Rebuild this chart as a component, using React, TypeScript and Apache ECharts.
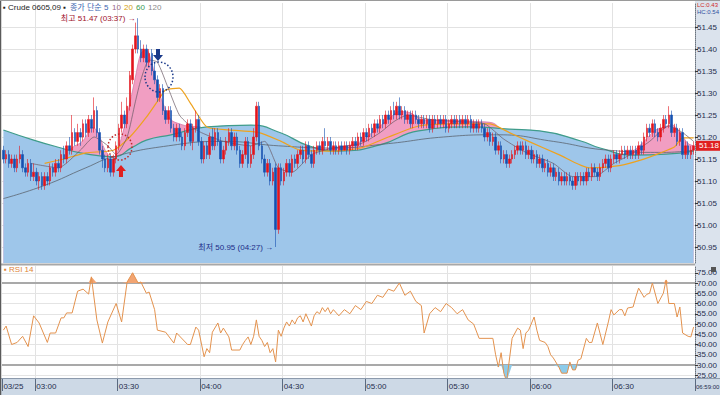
import React, { useEffect, useRef } from "react";
import * as echarts from "echarts";

const START_MIN = 2 * 60 + 48; // 02:48
const N = 252;
const categories: string[] = Array.from({ length: N }, (_, i) => {
  const m = START_MIN + i;
  return `${String(Math.floor(m / 60)).padStart(2, "0")}:${String(m % 60).padStart(2, "0")}`;
});

// [open, close, low, high]
const candles: number[][] = [
  [51.17, 51.15, 51.14, 51.18], [51.15, 51.16, 51.14, 51.17], [51.16, 51.14, 51.13, 51.17], [51.14, 51.15, 51.13, 51.16],
  [51.15, 51.13, 51.12, 51.16], [51.13, 51.15, 51.12, 51.16], [51.15, 51.16, 51.14, 51.18], [51.16, 51.13, 51.12, 51.17],
  [51.13, 51.12, 51.11, 51.14], [51.12, 51.14, 51.11, 51.15], [51.14, 51.11, 51.10, 51.15], [51.11, 51.12, 51.10, 51.14],
  [51.12, 51.10, 51.09, 51.13], [51.10, 51.11, 51.08, 51.12], [51.11, 51.09, 51.08, 51.12], [51.09, 51.11, 51.08, 51.12],
  [51.11, 51.10, 51.09, 51.12], [51.10, 51.13, 51.09, 51.14], [51.13, 51.12, 51.11, 51.14], [51.12, 51.14, 51.11, 51.15],
  [51.14, 51.13, 51.12, 51.15], [51.13, 51.16, 51.12, 51.17], [51.16, 51.15, 51.14, 51.18], [51.15, 51.18, 51.14, 51.19],
  [51.18, 51.17, 51.16, 51.20], [51.17, 51.21, 51.16, 51.25], [51.21, 51.19, 51.18, 51.22], [51.19, 51.21, 51.18, 51.23],
  [51.21, 51.20, 51.18, 51.22], [51.20, 51.23, 51.19, 51.24], [51.23, 51.21, 51.20, 51.24], [51.21, 51.24, 51.20, 51.25],
  [51.24, 51.22, 51.21, 51.25], [51.22, 51.26, 51.21, 51.29], [51.26, 51.21, 51.20, 51.27], [51.21, 51.17, 51.16, 51.22],
  [51.17, 51.15, 51.13, 51.18], [51.15, 51.13, 51.12, 51.16], [51.13, 51.15, 51.12, 51.16], [51.15, 51.12, 51.11, 51.16],
  [51.12, 51.15, 51.11, 51.16], [51.15, 51.18, 51.14, 51.19], [51.18, 51.22, 51.17, 51.23], [51.22, 51.25, 51.21, 51.28],
  [51.25, 51.23, 51.22, 51.26], [51.23, 51.27, 51.22, 51.29], [51.27, 51.34, 51.26, 51.35], [51.33, 51.40, 51.32, 51.41],
  [51.40, 51.43, 51.39, 51.46], [51.43, 51.40, 51.39, 51.47], [51.40, 51.38, 51.37, 51.42], [51.38, 51.40, 51.37, 51.41],
  [51.40, 51.37, 51.36, 51.41], [51.37, 51.39, 51.36, 51.40], [51.39, 51.35, 51.34, 51.40], [51.35, 51.33, 51.32, 51.37],
  [51.33, 51.29, 51.28, 51.34], [51.29, 51.31, 51.28, 51.32], [51.31, 51.26, 51.25, 51.32], [51.26, 51.24, 51.23, 51.27],
  [51.24, 51.26, 51.23, 51.27], [51.26, 51.22, 51.21, 51.27], [51.22, 51.20, 51.19, 51.23], [51.20, 51.22, 51.19, 51.23],
  [51.22, 51.20, 51.19, 51.23], [51.20, 51.18, 51.17, 51.21], [51.18, 51.21, 51.17, 51.22], [51.21, 51.23, 51.20, 51.24],
  [51.23, 51.19, 51.18, 51.24], [51.19, 51.22, 51.17, 51.23], [51.22, 51.24, 51.21, 51.26], [51.24, 51.19, 51.18, 51.25],
  [51.19, 51.15, 51.14, 51.20], [51.15, 51.18, 51.14, 51.19], [51.18, 51.16, 51.15, 51.19], [51.16, 51.20, 51.15, 51.21],
  [51.20, 51.18, 51.17, 51.22], [51.18, 51.21, 51.17, 51.22], [51.21, 51.19, 51.18, 51.22], [51.19, 51.15, 51.14, 51.20],
  [51.15, 51.17, 51.14, 51.18], [51.17, 51.19, 51.16, 51.20], [51.19, 51.21, 51.18, 51.22], [51.21, 51.18, 51.17, 51.22],
  [51.18, 51.20, 51.17, 51.21], [51.20, 51.17, 51.16, 51.21], [51.17, 51.14, 51.13, 51.18], [51.14, 51.16, 51.13, 51.17],
  [51.16, 51.19, 51.15, 51.20], [51.19, 51.14, 51.13, 51.20], [51.14, 51.16, 51.13, 51.18], [51.16, 51.20, 51.15, 51.22],
  [51.20, 51.27, 51.19, 51.28], [51.27, 51.18, 51.17, 51.28], [51.18, 51.15, 51.14, 51.19], [51.15, 51.12, 51.11, 51.16],
  [51.12, 51.14, 51.11, 51.15], [51.14, 51.10, 51.09, 51.15], [51.10, 51.12, 51.09, 51.13], [51.13, 50.99, 50.95, 51.14],
  [50.99, 51.13, 50.98, 51.14], [51.13, 51.10, 51.09, 51.14], [51.10, 51.12, 51.09, 51.13], [51.12, 51.14, 51.11, 51.15],
  [51.14, 51.12, 51.11, 51.15], [51.12, 51.15, 51.11, 51.16], [51.15, 51.14, 51.13, 51.16], [51.14, 51.16, 51.13, 51.17],
  [51.16, 51.17, 51.15, 51.18], [51.17, 51.15, 51.14, 51.18], [51.15, 51.18, 51.14, 51.19], [51.18, 51.16, 51.15, 51.19],
  [51.16, 51.14, 51.13, 51.17], [51.14, 51.17, 51.13, 51.18], [51.17, 51.18, 51.16, 51.19], [51.18, 51.17, 51.16, 51.19],
  [51.17, 51.19, 51.16, 51.20], [51.19, 51.18, 51.17, 51.22], [51.18, 51.19, 51.17, 51.20], [51.19, 51.17, 51.16, 51.20],
  [51.17, 51.18, 51.16, 51.19], [51.18, 51.17, 51.16, 51.19], [51.17, 51.18, 51.16, 51.19], [51.18, 51.17, 51.16, 51.19],
  [51.17, 51.18, 51.17, 51.19], [51.18, 51.17, 51.16, 51.19], [51.17, 51.18, 51.16, 51.19], [51.18, 51.19, 51.17, 51.20],
  [51.19, 51.18, 51.17, 51.20], [51.18, 51.20, 51.17, 51.21], [51.20, 51.19, 51.18, 51.21], [51.19, 51.21, 51.18, 51.22],
  [51.21, 51.20, 51.19, 51.22], [51.20, 51.22, 51.19, 51.23], [51.22, 51.21, 51.20, 51.23], [51.21, 51.23, 51.20, 51.24],
  [51.23, 51.22, 51.21, 51.24], [51.22, 51.24, 51.21, 51.25], [51.24, 51.23, 51.22, 51.25], [51.23, 51.25, 51.22, 51.26],
  [51.25, 51.24, 51.23, 51.26], [51.24, 51.26, 51.23, 51.27], [51.26, 51.25, 51.24, 51.28], [51.25, 51.27, 51.24, 51.28],
  [51.27, 51.25, 51.24, 51.29], [51.25, 51.26, 51.24, 51.27], [51.26, 51.24, 51.23, 51.27], [51.24, 51.25, 51.23, 51.26],
  [51.25, 51.23, 51.22, 51.26], [51.23, 51.25, 51.22, 51.26], [51.25, 51.24, 51.23, 51.26], [51.24, 51.23, 51.22, 51.25],
  [51.23, 51.24, 51.22, 51.25], [51.24, 51.23, 51.22, 51.25], [51.23, 51.24, 51.22, 51.25], [51.24, 51.22, 51.21, 51.25],
  [51.22, 51.24, 51.21, 51.25], [51.24, 51.23, 51.22, 51.25], [51.23, 51.24, 51.22, 51.25], [51.24, 51.23, 51.22, 51.25],
  [51.23, 51.24, 51.22, 51.25], [51.24, 51.22, 51.21, 51.25], [51.22, 51.23, 51.21, 51.24], [51.23, 51.24, 51.22, 51.25],
  [51.24, 51.23, 51.22, 51.25], [51.23, 51.24, 51.22, 51.25], [51.24, 51.23, 51.22, 51.25], [51.23, 51.24, 51.22, 51.25],
  [51.24, 51.23, 51.22, 51.25], [51.23, 51.24, 51.22, 51.25], [51.24, 51.22, 51.21, 51.25], [51.22, 51.23, 51.21, 51.24],
  [51.23, 51.22, 51.21, 51.24], [51.22, 51.23, 51.21, 51.24], [51.23, 51.22, 51.21, 51.24], [51.22, 51.20, 51.19, 51.23],
  [51.20, 51.21, 51.19, 51.22], [51.21, 51.19, 51.18, 51.22], [51.19, 51.20, 51.18, 51.21], [51.20, 51.17, 51.16, 51.21],
  [51.17, 51.18, 51.16, 51.19], [51.18, 51.15, 51.14, 51.19], [51.15, 51.16, 51.14, 51.17], [51.16, 51.14, 51.13, 51.17],
  [51.14, 51.15, 51.13, 51.16], [51.15, 51.16, 51.14, 51.17], [51.16, 51.17, 51.15, 51.18], [51.17, 51.18, 51.16, 51.19],
  [51.18, 51.17, 51.16, 51.19], [51.17, 51.18, 51.16, 51.19], [51.18, 51.16, 51.15, 51.19], [51.16, 51.17, 51.15, 51.18],
  [51.17, 51.15, 51.14, 51.18], [51.15, 51.16, 51.14, 51.17], [51.16, 51.14, 51.13, 51.17], [51.14, 51.15, 51.13, 51.16],
  [51.15, 51.13, 51.12, 51.16], [51.13, 51.14, 51.12, 51.15], [51.14, 51.12, 51.11, 51.15], [51.12, 51.13, 51.11, 51.14],
  [51.13, 51.11, 51.10, 51.14], [51.11, 51.12, 51.10, 51.13], [51.12, 51.10, 51.09, 51.13], [51.10, 51.11, 51.09, 51.12],
  [51.11, 51.10, 51.09, 51.12], [51.10, 51.11, 51.09, 51.12], [51.11, 51.10, 51.09, 51.12], [51.10, 51.09, 51.08, 51.11],
  [51.09, 51.11, 51.08, 51.12], [51.11, 51.10, 51.09, 51.12], [51.10, 51.11, 51.09, 51.12], [51.11, 51.10, 51.09, 51.12],
  [51.10, 51.12, 51.09, 51.13], [51.12, 51.11, 51.10, 51.13], [51.11, 51.13, 51.10, 51.14], [51.13, 51.12, 51.11, 51.14],
  [51.12, 51.11, 51.10, 51.13], [51.11, 51.13, 51.10, 51.14], [51.13, 51.14, 51.12, 51.15], [51.14, 51.15, 51.13, 51.16],
  [51.15, 51.13, 51.12, 51.16], [51.13, 51.15, 51.12, 51.16], [51.15, 51.16, 51.14, 51.17], [51.16, 51.15, 51.14, 51.17],
  [51.15, 51.16, 51.14, 51.17], [51.16, 51.17, 51.15, 51.18], [51.17, 51.16, 51.15, 51.18], [51.16, 51.17, 51.15, 51.18],
  [51.17, 51.16, 51.15, 51.18], [51.16, 51.17, 51.15, 51.18], [51.17, 51.16, 51.15, 51.18], [51.16, 51.18, 51.15, 51.19],
  [51.18, 51.17, 51.16, 51.19], [51.17, 51.20, 51.16, 51.21], [51.20, 51.22, 51.19, 51.23], [51.22, 51.21, 51.20, 51.23],
  [51.21, 51.23, 51.20, 51.24], [51.23, 51.21, 51.20, 51.24], [51.21, 51.20, 51.19, 51.22], [51.20, 51.22, 51.19, 51.23],
  [51.22, 51.24, 51.21, 51.25], [51.24, 51.23, 51.22, 51.25], [51.23, 51.25, 51.22, 51.27], [51.25, 51.21, 51.20, 51.26],
  [51.21, 51.22, 51.20, 51.23], [51.22, 51.19, 51.18, 51.23], [51.19, 51.21, 51.18, 51.22], [51.21, 51.16, 51.15, 51.22],
  [51.16, 51.18, 51.15, 51.19], [51.18, 51.16, 51.15, 51.19], [51.16, 51.17, 51.15, 51.18], [51.17, 51.18, 51.16, 51.19],
];

// moving averages: [candle index, price]
const maLong: number[][] = [
  [0, 51.216], [11, 51.193], [21, 51.175], [28, 51.164], [40, 51.155], [47, 51.177], [52, 51.193], [61, 51.205],
  [74, 51.223], [90, 51.227], [101, 51.209], [111, 51.18], [122, 51.168], [137, 51.182], [151, 51.214], [170, 51.223],
  [184, 51.218], [195, 51.214], [210, 51.191], [217, 51.175], [229, 51.159], [241, 51.161], [251, 51.168],
];
const maShort: number[][] = [
  [0, 51.15], [11, 51.13], [18, 51.13], [22, 51.16], [26, 51.18], [28, 51.186], [30, 51.2], [32, 51.222], [34, 51.215],
  [37, 51.17], [40, 51.15], [43, 51.2], [46, 51.277], [48, 51.336], [50, 51.39], [52, 51.398], [54, 51.368], [56, 51.314],
  [58, 51.277], [61, 51.239], [64, 51.23], [68, 51.224], [71, 51.224], [74, 51.21], [80, 51.19], [90, 51.19], [95, 51.17],
  [100, 51.1], [105, 51.12], [110, 51.16], [115, 51.17], [120, 51.175], [125, 51.18], [130, 51.19], [135, 51.215],
  [140, 51.24], [144, 51.258], [148, 51.255], [152, 51.24], [158, 51.238], [165, 51.238], [172, 51.235], [178, 51.232],
  [181, 51.215], [185, 51.16], [190, 51.17], [200, 51.125], [205, 51.1], [210, 51.1], [215, 51.115], [220, 51.14],
  [225, 51.16], [229, 51.168], [233, 51.19], [237, 51.215], [240, 51.222], [243, 51.228], [246, 51.21], [249, 51.185],
  [251, 51.18],
];
const ma20: number[][] = [
  [15, 51.14], [22, 51.15], [30, 51.164], [40, 51.17], [46, 51.2], [52, 51.245], [57, 51.29], [59, 51.307], [64, 51.311],
  [68, 51.277], [74, 51.223], [82, 51.216], [93, 51.21], [101, 51.19], [108, 51.17], [119, 51.168], [130, 51.175],
  [140, 51.2], [151, 51.225], [162, 51.23], [177, 51.23], [184, 51.21], [191, 51.19], [202, 51.16], [213, 51.13],
  [224, 51.135], [232, 51.148], [239, 51.164], [244, 51.177], [247, 51.198], [251, 51.198],
];
const ma10: number[][] = [
  [10, 51.14], [20, 51.13], [28, 51.17], [33, 51.2], [38, 51.18], [41, 51.16], [45, 51.2], [48, 51.28], [50, 51.33],
  [53, 51.375], [56, 51.37], [60, 51.31], [64, 51.25], [68, 51.225], [72, 51.21], [80, 51.19], [90, 51.18], [95, 51.19],
  [100, 51.13], [105, 51.12], [112, 51.16], [120, 51.175], [130, 51.185], [137, 51.21], [142, 51.235], [147, 51.25],
  [155, 51.24], [165, 51.235], [175, 51.23], [182, 51.195], [190, 51.165], [200, 51.14], [207, 51.11], [215, 51.11],
  [222, 51.14], [228, 51.16], [235, 51.19], [242, 51.225], [247, 51.21], [251, 51.19],
];
const ma60: number[][] = [
  [0, 51.06], [15, 51.09], [30, 51.13], [40, 51.155], [60, 51.18], [80, 51.19], [100, 51.18], [120, 51.175],
  [140, 51.185], [160, 51.2], [180, 51.205], [200, 51.19], [220, 51.17], [240, 51.165], [251, 51.17],
];
const rsi: number[][] = [
  [0, 47], [1, 49], [3, 40], [5, 41], [7, 44], [9, 39], [11, 54], [13, 50.5], [16, 41], [17, 45.6], [19, 45.6], [21, 53],
  [22, 53], [23, 55.4], [25, 55.4], [27, 66], [29, 67], [31, 64.6], [32, 73], [34, 52], [36, 40.7], [38, 51], [41, 60],
  [43, 51], [45, 70.5], [47, 75], [49, 70], [50, 70.5], [52, 65], [53, 65.6], [55, 57], [56, 47], [59, 46], [62, 40.7],
  [63, 45.6], [67, 40], [68, 40], [70, 48.5], [71, 47], [73, 34], [74, 38], [75, 36], [76, 46], [78, 50.5], [79, 45.6],
  [80, 48], [82, 43.7], [83, 37.3], [86, 37.3], [87, 40], [88, 42], [89, 43.7], [90, 40], [91, 44], [92, 52], [93, 44],
  [94, 42], [95, 39], [96, 41], [97, 36], [98, 38], [99, 31.5], [100, 47], [101, 44], [102, 48], [103, 51], [104, 49],
  [105, 52], [106, 50], [107, 53], [108, 54], [109, 51], [110, 55], [111, 52], [112, 49], [113, 54], [114, 56], [115, 55],
  [116, 58], [117, 56], [118, 58], [119, 55], [120, 57], [122, 54], [124, 57], [126, 55], [128, 59], [130, 57], [132, 61],
  [134, 60], [136, 64], [138, 63], [140, 67], [142, 66], [144, 70], [146, 64], [148, 66], [150, 61], [152, 59],
  [153, 45.6], [155, 55], [157, 58], [159, 56], [161, 60], [163, 58], [165, 55], [167, 57], [169, 52], [171, 50],
  [173, 43], [178, 43], [179, 35], [180, 29], [181, 36], [182, 26], [183, 22], [185, 43], [187, 48], [188, 47], [189, 38],
  [190, 45.6], [191, 47], [193, 53.4], [194, 47], [195, 42], [197, 41], [198, 39], [199, 35], [200, 33.4], [202, 29],
  [203, 26], [205, 26], [206, 31.5], [207, 27.6], [208, 27.6], [209, 32.4], [210, 33], [212, 43], [213, 41], [214, 41],
  [216, 50.5], [218, 40], [220, 51], [221, 57], [222, 54.4], [224, 57], [225, 57], [226, 54], [227, 57.8], [229, 58.3],
  [230, 63.2], [231, 67.5], [233, 63], [234, 64.5], [235, 65], [236, 70], [238, 60], [240, 65], [241, 71.5], [242, 60],
  [244, 60], [245, 53.4], [246, 58.3], [247, 45.6], [249, 44], [250, 43.7], [251, 48.5],
];

const priceTicks = [50.95, 51.0, 51.05, 51.1, 51.15, 51.2, 51.25, 51.3, 51.35, 51.4, 51.45];
const rsiTicks = [25, 30, 35, 40, 45, 50, 55, 60, 65, 70, 75];
const HIGH = { idx: 49, price: 51.47, text: "최고 51.47 (03:37) →" };
const LOW = { idx: 99, price: 50.95, text: "최저 50.95 (04:27) →" };
const LAST_PRICE = 51.18;

const isMark = (i: number) => i === 0 || (i >= 12 && (i - 12) % 30 === 0);

const FONT = "Liberation Sans, 'Noto Sans CJK KR', sans-serif";

export default function App() {
  const ref = useRef<HTMLDivElement>(null);
  useEffect(() => {
    document.body.style.margin = "0";
    if (!ref.current) return;
    const chart = echarts.init(ref.current, undefined, { renderer: "svg" });
    const axisLabelStyle = { fontSize: 8, color: "#1f2d4d", fontFamily: FONT };
    const option: any = {
      animation: false,
      backgroundColor: "#ffffff",
      textStyle: { fontFamily: FONT },
      grid: [
        { left: 2, right: 25, top: 3, height: 260 },
        { left: 2, right: 25, top: 266, height: 112 },
      ],
      xAxis: [
        {
          type: "category", gridIndex: 0, data: categories, boundaryGap: true,
          axisLine: { show: false }, axisTick: { show: false }, axisLabel: { show: false },
          splitLine: { show: true, interval: (i: number) => isMark(i) && i > 0, lineStyle: { color: "#e2e2e2", width: 1 } },
        },
        {
          type: "category", gridIndex: 1, data: categories, boundaryGap: true,
          axisLine: { show: false },
          axisTick: { show: true, interval: (i: number) => isMark(i), length: 13, lineStyle: { color: "#5a6a80" } },
          axisLabel: {
            show: true, interval: (i: number) => isMark(i), align: "left", margin: 4, ...axisLabelStyle,
            formatter: (v: string, i: number) => (i === 0 ? "03/25" : v),
          },
          splitLine: { show: true, interval: (i: number) => isMark(i) && i > 0, lineStyle: { color: "#e2e2e2", width: 1 } },
        },
      ],
      yAxis: [
        {
          type: "value", gridIndex: 0, position: "right", scale: true,
          min: 51 - 38 / 440, max: 51 + 222 / 440,
          axisLine: { show: true, lineStyle: { color: "#6a7480", type: "dotted" } },
          axisTick: { show: true, customValues: priceTicks, length: 3, lineStyle: { color: "#333" } },
          axisLabel: { customValues: priceTicks, margin: 2, formatter: (v: number) => v.toFixed(2), ...axisLabelStyle },
          splitLine: { show: false },
        },
        {
          type: "value", gridIndex: 1, position: "right", scale: true,
          min: 70 - (378 - 283) / 2.05, max: 70 + (283 - 266) / 2.05,
          axisLine: { show: true, lineStyle: { color: "#6a7480", type: "dotted" } },
          axisTick: { show: true, customValues: rsiTicks, length: 3, lineStyle: { color: "#333" } },
          axisLabel: { customValues: rsiTicks, margin: 2, formatter: (v: number) => v.toFixed(2), ...axisLabelStyle },
          splitLine: { show: false },
        },
      ],
      series: [
        {
          type: "line", xAxisIndex: 0, yAxisIndex: 0, data: [], z: 0, silent: true,
          markLine: {
            z: 0, silent: true, symbol: ["none", "none"], label: { show: false },
            lineStyle: { color: "#e2e2e2", type: "solid", width: 1 },
            data: priceTicks.map((v) => ({ yAxis: v })),
          },
        },
        {
          name: "MA5", type: "line", xAxisIndex: 0, yAxisIndex: 0, data: maShort, smooth: 0.3, symbol: "none", z: 1,
          lineStyle: { width: 0.8, color: "#d67aa6" },
          areaStyle: { color: "#f19ec2", opacity: 1, origin: "start" },
        },
        {
          name: "MA120", type: "line", xAxisIndex: 0, yAxisIndex: 0, data: maLong, smooth: true, symbol: "none", z: 2,
          lineStyle: { width: 1.2, color: "#3f9c8a" },
          areaStyle: { color: "#9ec6ea", opacity: 1, origin: "start" },
        },
        {
          name: "MA60", type: "line", xAxisIndex: 0, yAxisIndex: 0, data: ma60, smooth: true, symbol: "none", z: 3,
          lineStyle: { width: 0.8, color: "#5c6470" },
        },
        {
          name: "MA20", type: "line", xAxisIndex: 0, yAxisIndex: 0, data: ma20, smooth: 0.2, symbol: "none", z: 3,
          lineStyle: { width: 1.2, color: "#eea21e" },
        },
        {
          name: "MA10", type: "line", xAxisIndex: 0, yAxisIndex: 0, data: ma10, smooth: 0.2, symbol: "none", z: 3,
          lineStyle: { width: 0.7, color: "#6a5a66" },
        },
        {
          name: "Crude", type: "candlestick", xAxisIndex: 0, yAxisIndex: 0, data: candles, barWidth: 2, z: 4,
          itemStyle: { color: "#e3141c", color0: "#1550b0", borderColor: "#e3141c", borderColor0: "#1550b0", borderWidth: 0.6 },
          markPoint: {
            symbol: "circle", symbolSize: 1, itemStyle: { color: "rgba(0,0,0,0)" }, silent: true,
            data: [
              { coord: [HIGH.idx, HIGH.price], label: { show: true, position: "left", distance: 2, formatter: HIGH.text, color: "#a0102a", fontSize: 8, fontFamily: FONT } },
              { coord: [LOW.idx, LOW.price], label: { show: true, position: "left", distance: 2, formatter: LOW.text, color: "#1c2c88", fontSize: 8, fontFamily: FONT } },
            ],
          },
          markLine: {
            z: 10, silent: true, symbol: ["none", "none"],
            lineStyle: { color: "rgba(0,0,0,0)", width: 1, type: "solid" },
            label: { show: true, position: "end", distance: 1, formatter: LAST_PRICE.toFixed(2), color: "#ffffff", backgroundColor: "#e02020", padding: [1, 4, 1, 3], fontSize: 8, fontFamily: FONT },
            data: [{ yAxis: LAST_PRICE }],
          },
        },
        {
          type: "line", xAxisIndex: 1, yAxisIndex: 1, data: [], z: 0, silent: true,
          markLine: {
            z: 0, silent: true, symbol: ["none", "none"], label: { show: false },
            data: rsiTicks.map((v) => ({
              yAxis: v,
              lineStyle: v === 70 || v === 30 ? { color: "#a9a9a9", width: 2, type: "solid" } : { color: "#e4e4e4", width: 1, type: "solid" },
            })),
          },
        },
        {
          type: "line", xAxisIndex: 1, yAxisIndex: 1, z: 2, symbol: "none", silent: true,
          data: rsi.map(([i, v]) => [i, Math.max(v, 70)]),
          lineStyle: { width: 0 }, areaStyle: { color: "#f2a472", opacity: 1, origin: 70 },
        },
        {
          type: "line", xAxisIndex: 1, yAxisIndex: 1, z: 2, symbol: "none", silent: true,
          data: rsi.map(([i, v]) => [i, Math.min(v, 30)]),
          lineStyle: { width: 0 }, areaStyle: { color: "#8ccbea", opacity: 1, origin: 30 },
        },
        {
          name: "RSI 14", type: "line", xAxisIndex: 1, yAxisIndex: 1, data: rsi, symbol: "none", z: 3,
          lineStyle: { width: 1, color: "#e3924e" },
        },
      ],
      graphic: [
        { type: "rect", z: -5, shape: { x: 695, y: 0, width: 25, height: 395 }, style: { fill: "#dbe3ed" } },
        { type: "rect", z: -4, shape: { x: 0, y: 378, width: 720, height: 17 }, style: { fill: "#cdd9e6" } },
        { type: "line", z: 20, shape: { x1: 0, y1: 378.5, x2: 720, y2: 378.5 }, style: { stroke: "#8c9aac", lineWidth: 1 } },
        { type: "line", z: 20, shape: { x1: 0, y1: 264.5, x2: 695, y2: 264.5 }, style: { stroke: "#a8a8a8", lineWidth: 2 } },
        { type: "line", z: 20, shape: { x1: 0.5, y1: 0, x2: 0.5, y2: 395 }, style: { stroke: "#5a5a5a", lineWidth: 1.5 } },
        { type: "line", z: 20, shape: { x1: 0, y1: 0.5, x2: 720, y2: 0.5 }, style: { stroke: "#9a9a9a", lineWidth: 1 } },
        {
          type: "text", z: 20, x: 3, y: 3,
          style: { text: "▪ Crude 0605,09 ▪", fill: "#222", fontSize: 8, fontFamily: FONT },
        },
        {
          type: "text", z: 20, x: 70, y: 3,
          style: { text: "종가 단순 5", fill: "#3a64b0", fontSize: 8, fontFamily: FONT },
        },
        { type: "text", z: 20, x: 112, y: 3, style: { text: "10", fill: "#9a6a8a", fontSize: 8, fontFamily: FONT } },
        { type: "text", z: 20, x: 124, y: 3, style: { text: "20", fill: "#d4a010", fontSize: 8, fontFamily: FONT } },
        { type: "text", z: 20, x: 136, y: 3, style: { text: "60", fill: "#3a9a50", fontSize: 8, fontFamily: FONT } },
        { type: "text", z: 20, x: 148, y: 3, style: { text: "120", fill: "#8a8a8a", fontSize: 8, fontFamily: FONT } },
        { type: "text", z: 20, x: 697, y: 2, style: { text: "LC:0.43", fill: "#d02828", fontSize: 6, fontFamily: FONT } },
        { type: "text", z: 20, x: 697, y: 9, style: { text: "HC:0.54", fill: "#2f4f9f", fontSize: 6, fontFamily: FONT } },
        { type: "text", z: 20, x: 4, y: 265, style: { text: "▪ RSI 14", fill: "#e08436", fontSize: 8, fontFamily: FONT } },
        { type: "rect", z: 20, shape: { x: 711, y: 267, width: 5, height: 5 }, style: { fill: "#555" } },
        { type: "text", z: 20, x: 696, y: 384, style: { text: "06:59:00", fill: "#1f2d4d", fontSize: 6, fontFamily: FONT } },
        {
          type: "polygon", z: 20,
          shape: { points: [[116, 171], [121, 165], [126, 171], [123, 171], [123, 177], [119, 177], [119, 171]] },
          style: { fill: "#e02020" },
        },
        {
          type: "polygon", z: 20,
          shape: { points: [[153, 55], [158, 61], [163, 55], [160, 55], [160, 49], [156, 49], [156, 55]] },
          style: { fill: "#1a3a8a" },
        },
        {
          type: "ellipse", z: 20, shape: { cx: 120, cy: 147, rx: 12, ry: 13 },
          style: { fill: "none", stroke: "#c02828", lineWidth: 1.5, lineDash: [1.5, 2] },
        },
        {
          type: "ellipse", z: 20, shape: { cx: 159, cy: 77, rx: 14, ry: 15 },
          style: { fill: "none", stroke: "#1a3a8a", lineWidth: 1.5, lineDash: [1.5, 2] },
        },
      ],
    };
    chart.setOption(option);
    return () => chart.dispose();
  }, []);
  return <div ref={ref} style={{ width: 720, height: 395 }} />;
}
